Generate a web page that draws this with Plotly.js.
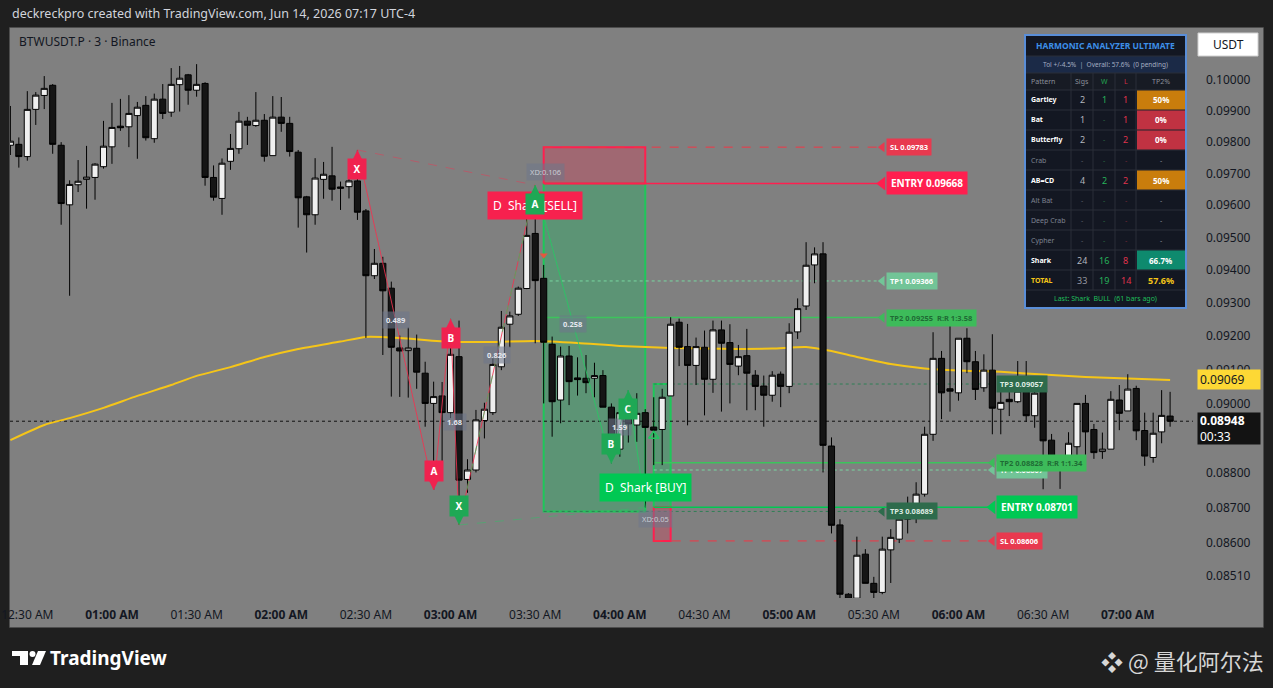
<!DOCTYPE html>
<html>
<head>
<meta charset="utf-8">
<script src="https://cdn.plot.ly/plotly-3.0.1.min.js"></script>
<style>
  html, body { margin: 0; padding: 0; background: #1f1f1f; }
  #chart { width: 1273px; height: 688px; }
</style>
</head>
<body>
<div id="chart"></div>
<script>
// ---------- market data: BTWUSDT.P, 3-minute bars, Jun 14 2026 ----------
const DAY = '2026-06-14 ';
const barTimes = [
  '00:24','00:27',
  '00:30','00:33','00:36','00:39','00:42','00:45','00:48','00:51','00:54','00:57',
  '01:00','01:03','01:06','01:09','01:12','01:15','01:18','01:21','01:24','01:27',
  '01:30','01:33','01:36','01:39','01:42','01:45','01:48','01:51','01:54','01:57',
  '02:00','02:03','02:06','02:09','02:12','02:15','02:18','02:21','02:24','02:27',
  '02:30','02:33','02:36','02:39','02:42','02:45','02:48','02:51','02:54','02:57',
  '03:00','03:03','03:06','03:09','03:12','03:15','03:18','03:21','03:24','03:27',
  '03:30','03:33','03:36','03:39','03:42','03:45','03:48','03:51','03:54','03:57',
  '04:00','04:03','04:06','04:09','04:12','04:15','04:18','04:21','04:24','04:27',
  '04:30','04:33','04:36','04:39','04:42','04:45','04:48','04:51','04:54','04:57',
  '05:00','05:03','05:06','05:09','05:12','05:15','05:18','05:21','05:24','05:27',
  '05:30','05:33','05:36','05:39','05:42','05:45','05:48','05:51','05:54','05:57',
  '06:00','06:03','06:06','06:09','06:12','06:15','06:18','06:21','06:24','06:27',
  '06:30','06:33','06:36','06:39','06:42','06:45','06:48','06:51','06:54','06:57',
  '07:00','07:03','07:06','07:09','07:12','07:15'
];
const openP = [
  0.09789,0.09792,
  0.09753,0.09904,0.09949,0.09982,0.09789,0.09601,0.09664,0.09681,0.09687,0.09721,
  0.09784,0.09850,0.09848,0.09884,0.09917,0.09810,0.09937,0.09895,0.09984,0.10016,
  0.09966,0.09988,0.09687,0.09621,0.09738,0.09778,0.09866,0.09852,0.09869,0.09756,
  0.09879,0.09859,0.09767,0.09626,0.09570,0.09681,0.09692,0.09657,0.09658,0.09676,
  0.09582,0.09382,0.09420,0.09344,0.09164,0.09156,0.09163,0.09089,0.09000,0.09022,
  0.08973,0.09138,0.08780,0.08807,0.08950,0.08973,0.09108,0.09235,0.09265,0.09343,
  0.09512,0.09374,0.09175,0.09010,0.09140,0.09075,0.09074,0.09074,0.09082,0.08989,
  0.08867,0.08973,0.08937,0.08973,0.08931,0.08924,0.09022,0.09241,0.09168,0.09112,
  0.09166,0.09071,0.09218,0.09180,0.09110,0.09141,0.09083,0.09051,0.09024,0.09086,
  0.09050,0.09212,0.09290,0.09415,0.09449,0.08876,0.08651,0.08458,0.08447,0.08569,
  0.08488,0.08463,0.08581,0.08611,0.08667,0.08709,0.08738,0.08910,0.09133,0.09043,
  0.09031,0.09193,0.09123,0.09046,0.09098,0.08983,0.09012,0.09005,0.09042,0.08964,
  0.09034,0.08893,0.08843,0.08838,0.08874,0.09000,0.08924,0.08860,0.08867,0.09010,
  0.08978,0.09044,0.08921,0.08843,0.08917,0.08963
];
const highP = [
  0.09915,0.09814,
  0.09963,0.09960,0.10012,0.09986,0.09799,0.09678,0.09742,0.09787,0.09732,0.09867,
  0.09925,0.09938,0.09950,0.09928,0.09947,0.09955,0.09986,0.10038,0.10045,0.10019,
  0.10051,0.09992,0.09725,0.09747,0.09825,0.09896,0.09880,0.09960,0.09889,0.09947,
  0.09944,0.09880,0.09774,0.09629,0.09748,0.09736,0.09784,0.09674,0.09700,0.09774,
  0.09588,0.09464,0.09440,0.09364,0.09201,0.09225,0.09204,0.09123,0.09064,0.09063,
  0.09251,0.09246,0.08838,0.08981,0.09002,0.09133,0.09275,0.09273,0.09349,0.09559,
  0.09663,0.09415,0.09198,0.09168,0.09170,0.09136,0.09143,0.09120,0.09098,0.09000,
  0.09000,0.09039,0.09030,0.08983,0.09018,0.09043,0.09256,0.09252,0.09236,0.09195,
  0.09216,0.09246,0.09246,0.09235,0.09173,0.09221,0.09098,0.09082,0.09095,0.09094,
  0.09238,0.09313,0.09485,0.09469,0.09485,0.08901,0.08667,0.08461,0.08618,0.08583,
  0.08506,0.08618,0.08639,0.08693,0.08731,0.08772,0.08932,0.09211,0.09155,0.09233,
  0.09193,0.09223,0.09155,0.09145,0.09205,0.09034,0.09059,0.09125,0.09125,0.09044,
  0.09054,0.08911,0.08850,0.08916,0.09000,0.09025,0.08940,0.08915,0.09036,0.09054,
  0.09086,0.09052,0.08973,0.08973,0.09039,0.09034
];
const lowP = [
  0.09758,0.09718,
  0.09740,0.09854,0.09905,0.09762,0.09539,0.09321,0.09641,0.09589,0.09617,0.09715,
  0.09730,0.09835,0.09783,0.09746,0.09804,0.09797,0.09873,0.09880,0.09897,0.09919,
  0.09945,0.09661,0.09614,0.09570,0.09711,0.09762,0.09790,0.09848,0.09737,0.09756,
  0.09832,0.09753,0.09530,0.09453,0.09539,0.09620,0.09614,0.09585,0.09621,0.09554,
  0.09194,0.09372,0.09143,0.09020,0.09019,0.09017,0.09043,0.08932,0.08750,0.08826,
  0.08957,0.08651,0.08742,0.08800,0.08898,0.08966,0.09098,0.09166,0.09260,0.09341,
  0.09178,0.09000,0.08903,0.08942,0.08995,0.09023,0.09030,0.09018,0.08989,0.08826,
  0.08845,0.08886,0.08888,0.08700,0.08821,0.08821,0.09022,0.09110,0.08936,0.09054,
  0.08965,0.09031,0.08976,0.09000,0.09083,0.08980,0.08980,0.08932,0.09005,0.08989,
  0.09030,0.09191,0.09278,0.09359,0.08800,0.08627,0.08444,0.08442,0.08444,0.08488,
  0.08444,0.08458,0.08489,0.08600,0.08627,0.08656,0.08731,0.08891,0.08954,0.08976,
  0.09008,0.09089,0.09010,0.09034,0.08910,0.08910,0.08963,0.09001,0.08946,0.08929,
  0.08752,0.08833,0.08753,0.08838,0.08847,0.08839,0.08839,0.08839,0.08867,0.08922,
  0.08978,0.08893,0.08819,0.08828,0.08884,0.08932
];
const closeP = [
  0.09802,0.09753,
  0.09904,0.09950,0.09972,0.09792,0.09605,0.09665,0.09675,0.09688,0.09729,0.09786,
  0.09846,0.09845,0.09891,0.09911,0.09813,0.09937,0.09891,0.09985,0.10005,0.09966,
  0.09985,0.09687,0.09625,0.09732,0.09779,0.09866,0.09853,0.09869,0.09754,0.09879,
  0.09859,0.09769,0.09623,0.09570,0.09685,0.09697,0.09650,0.09653,0.09676,0.09578,
  0.09382,0.09420,0.09336,0.09166,0.09155,0.09164,0.09092,0.09000,0.09020,0.08973,
  0.09145,0.08778,0.08807,0.08952,0.08983,0.09115,0.09226,0.09260,0.09344,0.09506,
  0.09367,0.09181,0.09005,0.09140,0.09064,0.09070,0.09061,0.09082,0.08989,0.08869,
  0.08973,0.08940,0.08971,0.08930,0.08922,0.09018,0.09235,0.09166,0.09112,0.09168,
  0.09071,0.09218,0.09178,0.09115,0.09138,0.09089,0.09050,0.09024,0.09083,0.09050,
  0.09211,0.09282,0.09414,0.09449,0.08878,0.08650,0.08458,0.08444,0.08566,0.08488,
  0.08463,0.08583,0.08616,0.08667,0.08709,0.08738,0.08910,0.09133,0.09031,0.09036,
  0.09193,0.09123,0.09041,0.09098,0.08986,0.09003,0.09005,0.09036,0.08964,0.09030,
  0.08891,0.08842,0.08838,0.08884,0.09000,0.08917,0.08857,0.08867,0.09012,0.08971,
  0.09042,0.08920,0.08847,0.08913,0.08965,0.08948
];

// moving average overlay
const emaTimes = ['00:24','00:36','00:45','00:57','01:09','01:21','01:30','01:42','01:54','02:06',
  '02:21','02:30','02:42','03:00','03:15','03:30','03:45','04:00','04:18','04:42','04:54','05:06',
  '05:15','05:24','05:36','05:48','06:00','06:15','06:30','06:45','07:00','07:15'];
const emaVals = [0.08893,0.08937,0.08957,0.08987,0.09022,0.09054,0.09081,0.09107,0.09137,0.09161,
  0.09183,0.09197,0.09194,0.09182,0.09182,0.09185,0.09179,0.09170,0.09164,0.09161,0.09162,0.09167,
  0.09155,0.09137,0.09116,0.09103,0.09097,0.09093,0.09085,0.09078,0.09073,0.09069];

// harmonic pattern pivots (X, A, B, C, D)
const pivotNames = ['X','A','B','C','D'];
const bearTimes = ['02:27','02:54','03:00','03:03','03:30'];
const bearPrices = [0.09774,0.08750,0.09251,0.08651,0.09663];
const bullTimes = ['03:03','03:30','03:57','04:03','04:09'];
const bullPrices = [0.08651,0.09663,0.08826,0.09039,0.08700];
const bearRatios = ['0.489','1.68'];        // on legs XA, BC
const bullRatios = ['0.826','0.258','1.59']; // on legs XA, AB, BC
const bearXD = 'XD:0.106';
const bullXD = 'XD:0.05';

// trade setups
const levelNames = ['SL','ENTRY','TP1','TP2','TP3'];
const bearLevels = [0.09783,0.09668,0.09366,0.09255,0.08689];
const bullLevels = [0.08606,0.08701,0.08807,0.08828,0.09057];
const bearRR = '1:3.58';
const bullRR = '1:1.34';
const bearSpan = ['03:33','04:09','05:33'];  // box start, box end, line end
const bullSpan = ['04:12','04:18','06:12'];
const signalTimes = ['03:33','04:12'];
const signalPrices = [0.09445,0.08905];

// statistics table
const patterns = ['Gartley','Bat','Butterfly','Crab','AB=CD','Alt Bat','Deep Crab','Cypher','Shark'];
const sigs   = [2,1,2,0,4,0,0,0,24];
const wins   = [1,0,0,0,2,0,0,0,16];
const losses = [1,1,2,0,2,0,0,0,8];

// axis ticks
const tickTimes = ['00:30','01:00','01:30','02:00','02:30','03:00','03:30','04:00','04:30','05:00','05:30','06:00','06:30','07:00'];
const tickLabels = ['12:30 AM','01:00 AM','01:30 AM','02:00 AM','02:30 AM','03:00 AM','03:30 AM','04:00 AM','04:30 AM','05:00 AM','05:30 AM','06:00 AM','06:30 AM','07:00 AM'];
const priceTicks = [0.0851,0.086,0.087,0.088,0.090,0.091,0.092,0.093,0.094,0.095,0.096,0.097,0.098,0.099,0.100];

// ---------- geometry helpers ----------
const W = 1273, H = 688, ML = 10, MR = 80, MT = 28, MB = 90;
const PW = W - ML - MR, PH = H - MT - MB;
const px = v => (v - ML) / PW;
const py = v => (H - MB - v) / PH;
const L10 = Math.log10;
const T = t => DAY + t;
const X_RANGE = [T('00:23:52'), T('07:23:07')];
const Y_RANGE = [L10(0.084476), L10(0.101699)];
const pad = n => String(n).padStart(2, '0');
function midTime(a, b) {
  const m = t => { const p = t.split(':').map(Number); return p[0] * 60 + p[1]; };
  const v = (m(a) + m(b)) / 2;
  return DAY + pad(Math.floor(v / 60)) + ':' + pad(Math.floor(v % 60)) + ':' + pad(Math.round((v % 1) * 60));
}
const FONT = 'Noto Sans, Open Sans, sans-serif';
const GRAY = '#808080';

const shapes = [];
const annotations = [];
const traces = [];
// "top" items go on the overlay axes (x2/y2), which render above the candles' base layer
const axesOf = top => top ? {xaxis:'x2', yaxis:'y2'} : {xaxis:'x', yaxis:'y'};
const line = (xs, ys, color, width, dash, top) => traces.push(Object.assign({type:'scatter', mode:'lines', x:xs, y:ys,
  hoverinfo:'skip', showlegend:false, line:{color:color, width:width, dash:dash || 'solid'}}, axesOf(top)));
const box = (t0, t1, p0, p1, fill, edge) => traces.push({type:'scatter', mode:'lines',
  x:[t0, t1, t1, t0, t0], y:[p0, p0, p1, p1, p0], fill:'toself', fillcolor:fill,
  hoverinfo:'skip', showlegend:false, line:{color:edge, width:2}});
const marker = (t, p, mk, top) => traces.push(Object.assign({type:'scatter', mode:'markers', x:[t], y:[p],
  hoverinfo:'skip', showlegend:false, marker:mk}, axesOf(top)));

// axis strips (price scale on the right, time scale below) and panel frame
shapes.push({type:'rect', xref:'paper', yref:'paper', x0:px(1193), x1:px(1263), y0:py(627), y1:py(28),
  fillcolor:GRAY, line:{width:0}, layer:'below'});
shapes.push({type:'rect', xref:'paper', yref:'paper', x0:px(10), x1:px(1193), y0:py(627), y1:py(598),
  fillcolor:GRAY, line:{width:0}, layer:'below'});
shapes.push({type:'rect', xref:'paper', yref:'paper', x0:px(9.5), x1:px(1263.5), y0:py(627.5), y1:py(27.5),
  fillcolor:'rgba(0,0,0,0)', line:{color:'#4d4d4d', width:1}, layer:'below'});

// ---------- trade setup boxes and level lines ----------
function drawSetup(levels, span, bull, rr) {
  const [sl, entry, tp1, tp2, tp3] = levels;
  box(T(span[0]), T(span[1]), entry, tp3, 'rgba(0,200,90,0.28)', '#1ec75a');
  box(T(span[0]), T(span[1]), entry, sl, 'rgba(255,30,70,0.25)', '#ff1f4f');
  const styles = [
    {c:'#f23645', w:1, d:'dash', bg:'#e8394f', fc:'#ffffff', fs:7.5},
    {c: bull ? '#00c853' : '#ff1f4f', w:1.5, d:'solid', bg: bull ? '#00c853' : '#ff1f4f', fc:'#ffffff', fs:10},
    {c:'#78d6a0', w:1, d:'dot', bg:'#72c497', fc:'#ffffff', fs:7.5},
    {c:'#3cc45c', w:1.5, d:'solid', bg:'#3dbb5a', fc:'#1f6b35', fs:7.5},
    {c:'#2f7f55', w:1, d:'dot', bg:'#2e6b4c', fc:'#dfece3', fs:7.5}
  ];
  const order = [0, 2, 4, 3, 1];
  order.forEach(i => {
    const s = styles[i], v = levels[i];
    line([T(span[0]), T(span[2])], [v, v], s.c, s.w, s.d);
    const txt = levelNames[i] + ' ' + v.toFixed(5) + (i === 3 ? '  R:R ' + rr : '');
    annotations.push({x:T(span[2]), y:L10(v), xref:'x', yref:'y', xanchor:'left', yanchor:'middle', xshift:4,
      showarrow:false, text:'<b>' + txt + '</b>', bgcolor:s.bg, borderpad: i === 1 ? 4 : 3,
      font:{family:FONT, size:s.fs, color:s.fc}});
    marker(T(span[2]), v, {symbol:'triangle-left', size: i === 1 ? 12 : 9, color:s.bg});
  });
}
drawSetup(bearLevels, bearSpan, false, bearRR);
drawSetup(bullLevels, bullSpan, true, bullRR);

// last price line
const lastClose = closeP[closeP.length - 1];
const lastEma = emaVals[emaVals.length - 1];
line(X_RANGE, [lastClose, lastClose], '#111111', 1, 'dot');

// ---------- moving average ----------
traces.push({type:'scatter', mode:'lines', x:emaTimes.map(T), y:emaVals, hoverinfo:'skip', showlegend:false,
  line:{color:'#f5c518', width:2, shape:'spline', smoothing:0.6}});

// ---------- candles (overlay axes, above the setup drawings) ----------
traces.push({type:'candlestick', xaxis:'x2', yaxis:'y2', x:barTimes.map(T), open:openP, high:highP, low:lowP, close:closeP,
  increasing:{line:{color:'#000000', width:1}, fillcolor:'#efefef'},
  decreasing:{line:{color:'#000000', width:1}, fillcolor:'#151515'},
  whiskerwidth:0, hoverinfo:'skip', showlegend:false});

// ---------- pattern legs ----------
const RED = '#f0224f', GREEN = '#1fa855';
line(bearTimes.map(T), bearPrices, 'rgba(240,50,80,0.85)', 1, 'solid', true);
line([T(bearTimes[0]), T(bearTimes[4])], [bearPrices[0], bearPrices[4]], 'rgba(240,50,80,0.45)', 1, 'dash', true);
line(bullTimes.slice(0, 2).map(T), bullPrices.slice(0, 2), 'rgba(40,200,100,0.7)', 1, 'dash', true);
line(bullTimes.slice(1).map(T), bullPrices.slice(1), 'rgba(40,200,100,0.85)', 1, 'solid', true);
line([T(bullTimes[0]), T(bullTimes[4])], [bullPrices[0], bullPrices[4]], 'rgba(40,200,100,0.45)', 1, 'dash', true);

// entry signal markers
marker(T(signalTimes[0]), signalPrices[0], {symbol:'triangle-down', size:7, color:'#e4583e'}, true);
marker(T(signalTimes[1]), signalPrices[1], {symbol:'triangle-up-open', size:9, color:'#22c55e', line:{width:1.5}}, true);

// ratio tags on the legs
function ratioTag(text, t0, p0, t1, p1) {
  annotations.push({x:midTime(t0, t1), y:(L10(p0) + L10(p1)) / 2, xref:'x', yref:'y', showarrow:false,
    text:'<b>' + text + '</b>', bgcolor:'rgba(110,118,138,0.6)', borderpad:3,
    font:{family:FONT, size:7.5, color:'#e4e7ee'}});
}
ratioTag(bearRatios[0], bearTimes[0], bearPrices[0], bearTimes[1], bearPrices[1]);
ratioTag(bearRatios[1], bearTimes[2], bearPrices[2], bearTimes[3], bearPrices[3]);
ratioTag(bullRatios[0], bullTimes[0], bullPrices[0], bullTimes[1], bullPrices[1]);
ratioTag(bullRatios[1], bullTimes[1], bullPrices[1], bullTimes[2], bullPrices[2]);
ratioTag(bullRatios[2], bullTimes[2], bullPrices[2], bullTimes[3], bullPrices[3]);
annotations.push({x:T(bearTimes[4]), y:L10(bearPrices[4]), xref:'x', yref:'y', xshift:10, yshift:13, showarrow:false,
  text:bearXD, bgcolor:'rgba(110,118,138,0.55)', borderpad:3, font:{family:FONT, size:7.5, color:'#c9ccd4'}});
annotations.push({x:T(bullTimes[4]), y:L10(bullPrices[4]), xref:'x', yref:'y', xshift:10, yshift:-11, showarrow:false,
  text:bullXD, bgcolor:'rgba(110,118,138,0.55)', borderpad:3, font:{family:FONT, size:7.5, color:'#c9ccd4'}});

// signal banners
annotations.push({x:T(bearTimes[4]), y:L10(bearPrices[4]), xref:'x', yref:'y', yshift:-20, showarrow:false,
  text:'D  Shark [SELL]', bgcolor:'#f7214e', borderpad:5, font:{family:FONT, size:12, color:'#ffffff'}});
annotations.push({x:T(bullTimes[4]), y:L10(bullPrices[4]), xref:'x', yref:'y', yshift:20, showarrow:false,
  text:'D  Shark [BUY]', bgcolor:'#00c853', borderpad:5, font:{family:FONT, size:12, color:'#ffffff'}});

// pivot letters
function pivot(name, t, p, isHigh, col) {
  annotations.push({x:T(t), y:L10(p), xref:'x', yref:'y', showarrow:true, ax:0, ay: isHigh ? 19 : -19,
    arrowcolor:col, arrowwidth:3, arrowhead:2, arrowsize:1, standoff:0,
    text:'<b>' + name + '</b>', bgcolor:col, width:16, height:18, borderpad:1,
    font:{family:FONT, size:10, color:'#ffffff'}});
}
for (let i = 0; i < 3; i++) pivot(pivotNames[i], bearTimes[i], bearPrices[i], i % 2 === 0, RED);
for (let i = 0; i < 4; i++) pivot(pivotNames[i], bullTimes[i], bullPrices[i], i % 2 === 1, GREEN);

// price scale tags
annotations.push({xref:'paper', yref:'y', x:px(1197), y:L10(lastEma), xanchor:'left', yanchor:'middle', showarrow:false,
  text:lastEma.toFixed(5), bgcolor:'#fdd835', width:58, height:15, align:'left', borderpad:2,
  font:{family:FONT, size:12, color:'#131722'}});
annotations.push({xref:'paper', yref:'y', x:px(1197), y:L10(lastClose), xanchor:'left', yanchor:'top', yshift:9,
  showarrow:false, text:'<b>' + lastClose.toFixed(5) + '</b><br>00:33', bgcolor:'#131313', width:58, height:27,
  align:'left', borderpad:2, font:{family:FONT, size:12, color:'#ffffff'}});

// currency button
shapes.push({type:'rect', xref:'paper', yref:'paper', x0:px(1198), x1:px(1258), y0:py(56), y1:py(33),
  fillcolor:'#ffffff', line:{color:'#d0d0d0', width:1}});
annotations.push({xref:'paper', yref:'paper', x:px(1228), y:py(44.5), xanchor:'center', yanchor:'middle',
  showarrow:false, text:'USDT', font:{family:FONT, size:12, color:'#131722'}});

// ---------- statistics table ----------
const TX0 = 1025, TX1 = 1186, TY0 = 35, TY1 = 308;
const colEdges = [1071, 1093, 1115, 1136];
const colCtr = [1082, 1104, 1125.5, 1160.5];
const rect = (x0, y0, x1, y1, fill, edge) => shapes.push({type:'rect', xref:'paper', yref:'paper',
  x0:px(x0), x1:px(x1), y0:py(y1), y1:py(y0), fillcolor:fill, line:edge || {width:0}});
const hline = (y, x0, x1) => shapes.push({type:'line', xref:'paper', yref:'paper', x0:px(x0), x1:px(x1),
  y0:py(y), y1:py(y), line:{color:'#2a2e39', width:1}});
const vline = (x, y0, y1) => shapes.push({type:'line', xref:'paper', yref:'paper', x0:px(x), x1:px(x),
  y0:py(y0), y1:py(y1), line:{color:'#2a2e39', width:1}});
const cell = (x, y, text, color, size, anchor, bold) => annotations.push({xref:'paper', yref:'paper',
  x:px(x), y:py(y), xanchor:anchor || 'center', yanchor:'middle', showarrow:false,
  text: bold ? '<b>' + text + '</b>' : text, font:{family:FONT, size:size, color:color}});

rect(TX0, TY0, TX1, TY1, '#131722', {color:'#5a8ed8', width:2});
rect(TX0 + 1, 56, TX1 - 1, 73, '#1b2a47');
rect(TX0 + 1, 73, TX1 - 1, 90, '#171b24');
[56, 73, 90, 110, 130, 150, 170, 190, 210, 230, 250, 270, 290].forEach(y => hline(y, TX0 + 1, TX1 - 1));
colEdges.forEach(x => vline(x, 73, 290));

const totS = sigs.reduce((a, b) => a + b, 0);
const totW = wins.reduce((a, b) => a + b, 0);
const totL = losses.reduce((a, b) => a + b, 0);
const pctText = (w, s) => { const v = w / s * 100; return (Number.isInteger(v) ? v.toFixed(0) : v.toFixed(1)) + '%'; };

cell(1105.5, 46, 'HARMONIC ANALYZER ULTIMATE', '#3d8fe8', 8.5, 'center', true);
cell(1105.5, 64.5, 'Tol +/-4.5%  |  Overall: ' + pctText(totW, totS) + '  (0 pending)', '#a3acc0', 6.5);
cell(1029, 81.5, 'Pattern', '#8b909a', 7, 'left');
cell(colCtr[0], 81.5, 'Sigs', '#8b909a', 7);
cell(colCtr[1], 81.5, 'W', '#22a650', 7);
cell(colCtr[2], 81.5, 'L', '#d02d45', 7);
cell(colCtr[3], 81.5, 'TP2%', '#8b909a', 7);

patterns.forEach((name, i) => {
  const yc = 100 + i * 20;
  const on = sigs[i] > 0;
  cell(1029, yc, name, on ? '#ffffff' : '#7d8290', 7, 'left', on);
  cell(colCtr[0], yc, on ? String(sigs[i]) : '-', on ? '#b2b5be' : '#5d606b', on ? 9 : 7);
  cell(colCtr[1], yc, wins[i] > 0 ? String(wins[i]) : '-', wins[i] > 0 ? '#26b45a' : '#2a6e45', wins[i] > 0 ? 9 : 7);
  cell(colCtr[2], yc, losses[i] > 0 ? String(losses[i]) : '-', losses[i] > 0 ? '#e0334d' : '#7a2a38', losses[i] > 0 ? 9 : 7);
  if (on) {
    const v = wins[i] / sigs[i] * 100;
    const bg = v >= 60 ? '#0e8a6e' : (v >= 40 ? '#c97d0c' : '#c03242');
    rect(1137, yc - 9.5, 1185, yc + 9.5, bg);
    cell(colCtr[3], yc, pctText(wins[i], sigs[i]), '#ffffff', 8, 'center', true);
  } else {
    cell(colCtr[3], yc, '-', '#8b909a', 7);
  }
});
cell(1029, 280, 'TOTAL', '#f5c518', 7, 'left', true);
cell(colCtr[0], 280, String(totS), '#9598a1', 9);
cell(colCtr[1], 280, String(totW), '#26b45a', 9);
cell(colCtr[2], 280, String(totL), '#e0334d', 9);
cell(colCtr[3], 280, pctText(totW, totS), '#f5c518', 9, 'center', true);
cell(1105.5, 298.5, 'Last: Shark  BULL  (61 bars ago)', '#1fbf5a', 7);

// ---------- header, symbol legend, branding ----------
annotations.push({xref:'paper', yref:'paper', x:px(10), y:py(14), xanchor:'left', yanchor:'middle', showarrow:false,
  text:'deckreckpro created with TradingView.com, Jun 14, 2026 07:17 UTC-4', font:{family:FONT, size:12.5, color:'#d1d4dc'}});
annotations.push({xref:'paper', yref:'paper', x:px(17), y:py(42), xanchor:'left', yanchor:'middle', showarrow:false,
  text:'BTWUSDT.P · 3 · Binance', font:{family:FONT, size:12, color:'#131722'}});
annotations.push({xref:'paper', yref:'paper', x:px(48), y:py(658), xanchor:'left', yanchor:'middle', showarrow:false,
  text:'<b>TradingView</b>', font:{family:FONT, size:19, color:'#ffffff'}});
rect(12, 651, 28, 656, '#ffffff');
rect(20, 651, 28, 665, '#ffffff');
shapes.push({type:'circle', xref:'paper', yref:'paper', x0:px(29.5), x1:px(35.5), y0:py(657), y1:py(651),
  fillcolor:'#ffffff', line:{width:0}});
shapes.push({type:'path', xref:'paper', yref:'paper',
  path:'M ' + px(38) + ' ' + py(651) + ' L ' + px(46) + ' ' + py(651) + ' L ' + px(40) + ' ' + py(665) + ' L ' + px(32) + ' ' + py(665) + ' Z',
  fillcolor:'#ffffff', line:{width:0}});
annotations.push({xref:'paper', yref:'paper', x:px(1266), y:py(660), xanchor:'right', yanchor:'middle', showarrow:false,
  text:'❖ @ 量化阿尔法', font:{family:'Noto Sans CJK SC, DejaVu Sans, sans-serif', size:22, color:'#d6d6d6'}});

// ---------- layout ----------
const hiddenAxis = {showgrid:false, zeroline:false, showline:false, showticklabels:false, ticks:'', fixedrange:true};
const layout = {
  width:W, height:H,
  margin:{l:ML, r:MR, t:MT, b:MB, pad:0},
  paper_bgcolor:'#1f1f1f', plot_bgcolor:GRAY,
  showlegend:false, hovermode:false,
  boxgap:0.15, boxgroupgap:0.15,
  xaxis:{type:'date', range:X_RANGE, rangeslider:{visible:false},
    showgrid:false, zeroline:false, showline:false, ticks:'', fixedrange:true,
    tickvals:tickTimes.map(T),
    ticktext:tickLabels.map(s => s.slice(3, 5) === '00' ? '<b>' + s + '</b>' : s),
    tickfont:{family:FONT, size:12, color:'#131722'}, ticklabelstandoff:8},
  yaxis:{type:'log', range:Y_RANGE, side:'right',
    showgrid:false, zeroline:false, showline:false, ticks:'', fixedrange:true,
    tickvals:priceTicks, ticktext:priceTicks.map(v => v.toFixed(5)),
    tickfont:{family:FONT, size:12, color:'#131722'}, ticklabelstandoff:12},
  xaxis2:Object.assign({type:'date', range:X_RANGE, overlaying:'x', anchor:'y2', rangeslider:{visible:false}}, hiddenAxis),
  yaxis2:Object.assign({type:'log', range:Y_RANGE, overlaying:'y', anchor:'x2', side:'right'}, hiddenAxis),
  shapes:shapes, annotations:annotations
};

Plotly.newPlot('chart', traces, layout, {displayModeBar:false, staticPlot:true});
</script>
</body>
</html>
